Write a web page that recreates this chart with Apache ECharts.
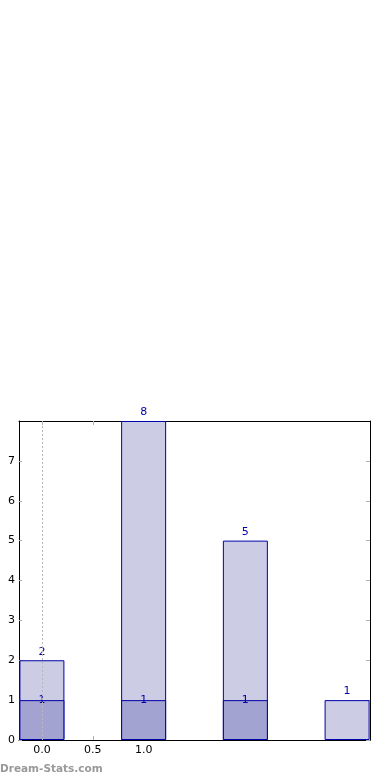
<!DOCTYPE html>
<html><head><meta charset="utf-8">
<script src="https://cdn.jsdelivr.net/npm/echarts@6/dist/echarts.min.js"></script>
<style>html,body{margin:0;padding:0;background:#fff}#c{width:390px;height:780px}</style>
</head><body><div id="c"></div>
<script>
const positions = [0, 1, 2, 3];
const totalValues = [2, 8, 5, 1];
const subValues = [1, 1, 1, null];
const xTickValues = [0, 0.5, 1.0];
const yTickValues = [0, 1, 2, 3, 4, 5, 6, 7];

const font = 'DejaVu Sans';
const chart = echarts.init(document.getElementById('c'));
const tickStyle = {color: '#b0b0b0', width: 1};
chart.setOption({
  animation: false,
  grid: {left: 19, right: 20, top: 421, bottom: 40, containLabel: false},
  xAxis: [{
    type: 'value', min: -0.225, max: 3.225, position: 'bottom',
    axisLine: {show: true, onZero: false, lineStyle: {color: '#000', width: 1}},
    axisTick: {show: true, inside: true, length: 4, lineStyle: tickStyle, customValues: xTickValues},
    axisLabel: {customValues: xTickValues, formatter: v => v.toFixed(1), color: '#000', fontFamily: font, fontSize: 11, margin: 5},
    splitLine: {show: false}
  }, {
    type: 'value', min: -0.225, max: 3.225, position: 'top',
    axisLine: {show: true, onZero: false, lineStyle: {color: '#000', width: 1}},
    axisTick: {show: true, inside: true, length: 4, lineStyle: tickStyle, customValues: xTickValues},
    axisLabel: {show: false},
    splitLine: {show: false}
  }],
  yAxis: [{
    type: 'value', min: 0, max: 8, interval: 1, position: 'left',
    axisLine: {show: true, onZero: false, lineStyle: {color: '#000', width: 1}},
    axisTick: {show: true, inside: true, length: 3, lineStyle: tickStyle, customValues: yTickValues},
    axisLabel: {customValues: yTickValues, color: '#000', fontFamily: font, fontSize: 11, margin: 4},
    splitLine: {show: false}
  }, {
    type: 'value', min: 0, max: 8, interval: 1, position: 'right',
    axisLine: {show: true, onZero: false, lineStyle: {color: '#000', width: 1}},
    axisTick: {show: true, inside: true, length: 4, lineStyle: tickStyle, customValues: yTickValues},
    axisLabel: {show: false},
    splitLine: {show: false}
  }],
  series: [{
    type: 'bar', xAxisIndex: 0, yAxisIndex: 0,
    data: positions.map((p, i) => [p, totalValues[i]]),
    barWidth: 45, barGap: '-100%',
    itemStyle: {color: '#ccccE5', borderColor: '#0000aa', borderWidth: 1},
    label: {show: true, position: 'top', distance: 3, color: '#0000aa', fontFamily: font, fontSize: 11},
    markLine: {
      silent: true, symbol: 'none', label: {show: false}, z: 10,
      lineStyle: {color: '#b8b8b8', type: [2, 2], width: 1},
      data: [{xAxis: 0}]
    }
  }, {
    type: 'bar', xAxisIndex: 0, yAxisIndex: 0,
    data: positions.map((p, i) => [p, subValues[i]]).filter(d => d[1] !== null),
    barWidth: 45, barGap: '-100%',
    itemStyle: {color: '#a3a3d1', borderColor: '#0000aa', borderWidth: 1},
    label: {show: true, position: 'top', distance: -6, color: '#0000aa', fontFamily: font, fontSize: 11}
  }],
  graphic: [{
    type: 'text', left: 0, top: 764,
    style: {text: 'Dream-Stats.com', fill: '#999', font: 'bold 10.5px "DejaVu Sans"'}
  }]
});
</script></body></html>
